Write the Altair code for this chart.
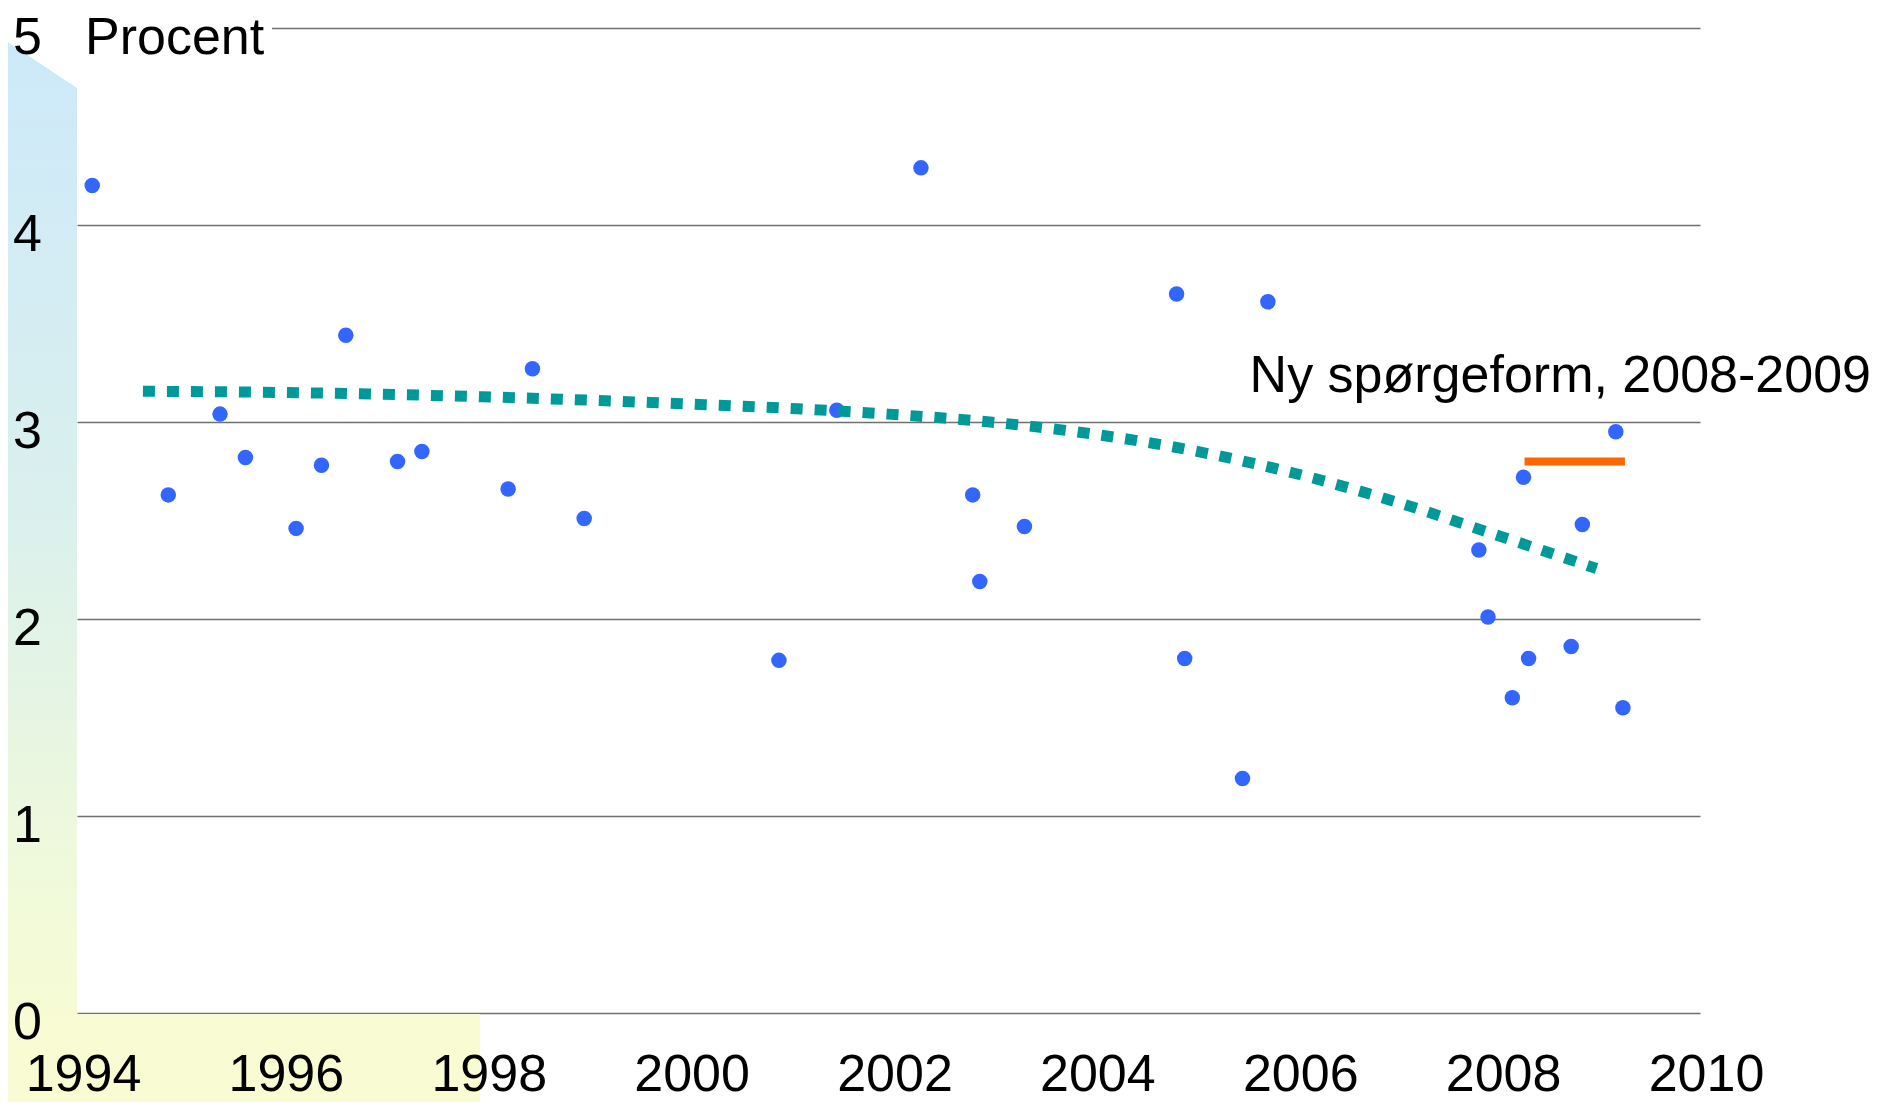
import altair as alt
import pandas as pd

# ---- data ----
dot_years = [1994.15, 1994.90, 1995.41, 1995.66, 1996.16, 1996.41, 1996.65, 1997.16,
             1997.40, 1998.25, 1998.49, 1999.00, 2000.92, 2001.49, 2002.32, 2002.83,
             2002.90, 2003.34, 2004.84, 2004.92, 2005.49, 2005.74, 2007.82, 2007.91,
             2008.15, 2008.26, 2008.31, 2008.73, 2008.84, 2009.17, 2009.24]
dot_values = [4.20, 2.63, 3.04, 2.82, 2.46, 2.78, 3.44, 2.80,
              2.85, 2.66, 3.27, 2.51, 1.79, 3.06, 4.29, 2.63,
              2.19, 2.47, 3.65, 1.80, 1.19, 3.61, 2.35, 2.01,
              1.60, 2.72, 1.80, 1.86, 2.48, 2.95, 1.55]

trend_years = [1994.65, 1996.0, 1998.0, 2000.0, 2001.0, 2002.0, 2003.0, 2004.0,
               2005.0, 2006.0, 2007.0, 2008.0, 2008.98]
trend_values = [3.156, 3.150, 3.128, 3.092, 3.070, 3.040, 3.000, 2.940,
                2.855, 2.740, 2.595, 2.425, 2.256]

new_years = [2008.27, 2009.26]
new_values = [2.80, 2.80]

y_ticks = [0, 1, 2, 3, 4, 5]
x_ticks = [1994, 1996, 1998, 2000, 2002, 2004, 2006, 2008, 2010]

note_text = "Ny spørgeform, 2008-2009"
note_year = 2005.56
note_value = 3.151
unit_text = "Procent"

FONT = "Liberation Sans"
FS = 52

dots_df = pd.DataFrame({"year": dot_years, "value": dot_values})
trend_df = pd.DataFrame({"year": trend_years, "value": trend_values})
new_df = pd.DataFrame({"year": new_years, "value": new_values})
ytick_df = pd.DataFrame({"value": y_ticks, "label": [str(v) for v in y_ticks]})
note_df = pd.DataFrame({"year": [note_year], "value": [note_value], "label": [note_text]})
one_df = pd.DataFrame({"k": [0]})

X = alt.X("year:Q",
          scale=alt.Scale(domain=[1994, 2010], nice=False, zero=False),
          axis=alt.Axis(values=x_ticks, format="d", grid=False, domain=False, ticks=False,
                        labelFontSize=FS, labelFont=FONT, labelColor="black",
                        labelPadding=77, labelBaseline="alphabetic", labelOffset=6,
                        labelFlush=False, labelOverlap=False, zindex=1, title=None))
Y = alt.Y("value:Q",
          scale=alt.Scale(domain=[0, 5], nice=False, zero=True),
          axis=alt.Axis(values=y_ticks, grid=True, labels=False, ticks=False, domain=False,
                        gridColor="#707070", gridWidth=1.4, title=None))

grad = alt.LinearGradient(
    gradient="linear", x1=0, y1=0, x2=0, y2=1,
    stops=[alt.GradientStop(color="#CCE8FA", offset=0),
           alt.GradientStop(color="#DAF0EE", offset=0.45),
           alt.GradientStop(color="#EDF8DD", offset=0.75),
           alt.GradientStop(color="#FBFDD0", offset=1)])

band = alt.Chart(one_df).mark_rect(color=grad).encode(
    x=alt.value(-69), x2=alt.value(0), y=alt.value(-20), y2=alt.value(1074))
bottom = alt.Chart(one_df).mark_rect(color="#F9FCD2").encode(
    x=alt.value(-69), x2=alt.value(403), y=alt.value(986), y2=alt.value(1074))
corner = alt.Chart(one_df).mark_point(
    shape="M -1.4 -1.4 L 0.77 -1.4 L 0.77 0.88 L -1.4 -0.56 Z",
    filled=True, color="white", opacity=1, size=10000, strokeWidth=0).encode(
    x=alt.value(-38.5), y=alt.value(16))
unit_bg = alt.Chart(one_df).mark_rect(color="white").encode(
    x=alt.value(0), x2=alt.value(195), y=alt.value(-5), y2=alt.value(5))

dots = alt.Chart(dots_df).mark_circle(size=240, color="#3366FF", opacity=1).encode(x=X, y=Y)
trend = alt.Chart(trend_df).mark_line(
    color="#009999", strokeWidth=11, strokeDash=[12, 12], strokeCap="butt",
    interpolate="monotone").encode(x=X, y=Y)
newline = alt.Chart(new_df).mark_line(color="#FF6600", strokeWidth=8).encode(x=X, y=Y)

ylabels = alt.Chart(ytick_df).mark_text(
    font=FONT, fontSize=FS, color="black", align="right", baseline="alphabetic", dy=26).encode(
    x=alt.value(-35), y=Y, text="label:N")
unit = alt.Chart(one_df).mark_text(
    text=unit_text, font=FONT, fontSize=FS, color="black", align="left", baseline="alphabetic").encode(
    x=alt.value(8), y=alt.value(26))
note = alt.Chart(note_df).mark_text(
    font=FONT, fontSize=FS, color="black", align="left", baseline="alphabetic").encode(
    x=X, y=Y, text="label:N")

chart = alt.layer(band, bottom, corner, unit_bg, dots, trend, newline, ylabels, unit, note).properties(
    width=1623, height=985,
    padding={"left": 69, "top": 20, "right": 180, "bottom": 89},
    autosize=alt.AutoSizeParams(type="none"),
    background="white",
).configure_view(stroke=None)

chart.save("out.html", embed_options={"renderer": "svg", "actions": False})
